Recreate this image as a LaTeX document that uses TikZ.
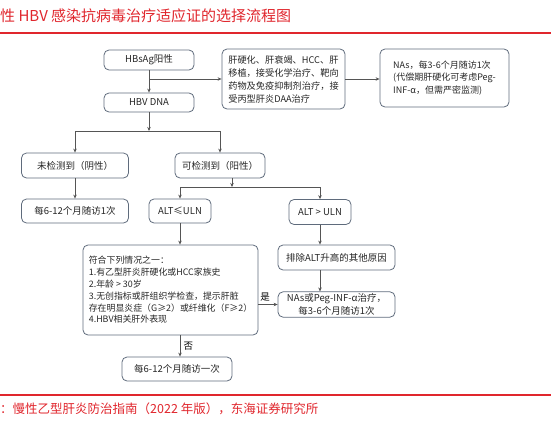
\documentclass[tikz,border=0pt]{standalone}
\usepackage{fontspec}
\setmainfont{Noto Sans CJK SC}
\usetikzlibrary{arrows.meta}
\definecolor{boxline}{HTML}{5F6B7C}
\definecolor{linkline}{HTML}{555555}
\definecolor{titlered}{HTML}{E0262D}
\tikzset{
  flowbox/.style={draw=boxline, line width=0.8pt, rounded corners=5pt, align=center,
    font=\fontsize{9.5}{12.5}\selectfont, text=black!85, inner sep=2pt},
  link/.style={draw=linkline, line width=0.7pt, -{Stealth[length=4pt,width=3.5pt]}},
  plain/.style={draw=linkline, line width=0.7pt},
}
\begin{document}
\begin{tikzpicture}[x=1pt, y=-1pt]
  \useasboundingbox (0,0) rectangle (551,423);
  % title and source
  \node[anchor=west, text=titlered, font=\fontsize{15}{18}\selectfont, inner sep=0pt] (title) at (0,16) {性 HBV 感染抗病毒治疗适应证的选择流程图};
  \draw[titlered, line width=1.2pt] (0,33) -- (551,33);
  \draw[titlered, line width=1.2pt] (0,395) -- (551,395);
  \node[anchor=west, text=titlered, font=\fontsize{12.5}{15}\selectfont, inner sep=0pt] (source) at (0,409) {：慢性乙型肝炎防治指南（2022 年版），东海证券研究所};
  % top row
  \node[flowbox, minimum width=90pt, minimum height=20pt] (hbsag) at (149,60) {HBsAg阳性};
  \node[flowbox, minimum width=90pt, minimum height=19pt] (dna) at (149,102.5) {HBV DNA};
  \node[flowbox, minimum width=123pt, minimum height=60pt, align=left, font=\fontsize{9.2}{13}\selectfont] (special) at (283.5,79)
    {肝硬化、肝衰竭、HCC、肝\\移植，接受化学治疗、靶向\\药物及免疫抑制剂治疗，接\\受丙型肝炎DAA治疗};
  \node[flowbox, minimum width=129pt, minimum height=58pt, align=left, font=\fontsize{9}{12.5}\selectfont] (nasfirst) at (444.5,78)
    {NAs，每3-6个月随访1次\\(代偿期肝硬化可考虑Peg-\\INF-α，但需严密监测)};
  % DNA result
  \node[flowbox, minimum width=107pt, minimum height=25pt] (neg) at (75,165.5) {未检测到（阴性）};
  \node[flowbox, minimum width=90pt, minimum height=25pt] (pos) at (220,165.5) {可检测到（阳性）};
  \node[flowbox, minimum width=107pt, minimum height=24pt] (negfu) at (75,211) {每6-12个月随访1次};
  \node[flowbox, minimum width=62pt, minimum height=24pt] (altlow) at (180,211) {ALT≤ULN};
  \node[flowbox, minimum width=62pt, minimum height=25pt] (althigh) at (320,212) {ALT > ULN};
  % lower part
  \node[flowbox, minimum width=175pt, minimum height=90pt, align=left, font=\fontsize{8.9}{11.8}\selectfont] (criteria) at (170.5,290)
    {符合下列情况之一：\\1.有乙型肝炎肝硬化或HCC家族史\\2.年龄 > 30岁\\3.无创指标或肝组织学检查，提示肝脏\\存在明显炎症（G≥2）或纤维化（F≥2）\\4.HBV相关肝外表现};
  \node[flowbox, minimum width=117pt, minimum height=25pt] (exclude) at (336.5,257.5) {排除ALT升高的其他原因};
  \node[flowbox, minimum width=117pt, minimum height=25pt] (treat) at (336.5,304.5) {NAs或Peg-INF-α治疗，\\每3-6个月随访1次};
  \node[flowbox, minimum width=110pt, minimum height=24pt] (lowfu) at (177,369) {每6-12个月随访一次};
  % junctions
  \coordinate (splitspecial) at (149,79);
  \coordinate (splitdna) at (149,131);
  \coordinate (splitalt) at (232,187);
  % connectors
  \draw[link] (hbsag) -- (dna);
  \draw[link] (splitspecial) -- (special.west);
  \draw[link] (special.east) -- (special.east -| nasfirst.west);
  \draw[link] (dna) -- (splitdna);
  \draw[link] (splitdna) -| (neg.north);
  \draw[link] (splitdna) -| (pos.north);
  \draw[link] (neg) -- (negfu);
  \draw[link] (splitalt |- pos.south) -- (splitalt);
  \draw[link] (splitalt) -| (altlow.north);
  \draw[link] (splitalt) -| (althigh.north);
  \draw[link] (altlow.south) -- (altlow.south |- criteria.north);
  \draw[link] (althigh.south) -- (althigh.south |- exclude.north);
  \draw[link] (althigh.south |- exclude.south) -- (althigh.south |- treat.north);
  \draw[link] (criteria.east |- treat.west) -- node[above, font=\fontsize{9.5}{11}\selectfont, pos=0.35] {是} (treat.west);
  \draw[link] (altlow.south |- criteria.south) -- node[right, font=\fontsize{9.5}{11}\selectfont] {否} (altlow.south |- lowfu.north);
\end{tikzpicture}
\end{document}
